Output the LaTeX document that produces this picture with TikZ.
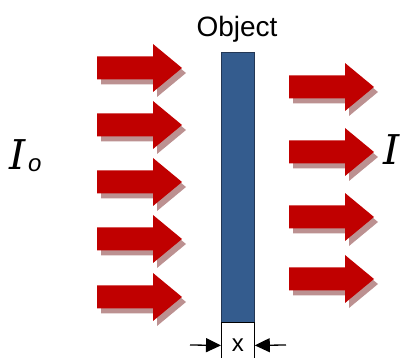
\documentclass[tikz,border=0pt]{standalone}
\usepackage{fontspec}
\setmainfont{Liberation Serif}
\setsansfont{Liberation Sans}
\newfontfamily\ifam{DejaVu Serif}
\usetikzlibrary{arrows.meta}
\definecolor{arrred}{RGB}{192,0,0}
\definecolor{shadowc}{RGB}{188,145,145}
\definecolor{barfill}{RGB}{52,92,142}
\definecolor{bardraw}{RGB}{35,55,85}
\begin{document}
\begin{tikzpicture}[x=1pt,y=-1pt,
  bigarrow/.pic={
    \fill[shadowc] (4,-6.5) -- (60,-6.5) -- (60,-19) -- (89,5) -- (60,29) -- (60,16.5) -- (4,16.5) -- cycle;
    \fill[arrred] (0,-11.5) -- (56,-11.5) -- (56,-24) -- (85,0) -- (56,24) -- (56,11.5) -- (0,11.5) -- cycle;
  },
  txt/.style={inner sep=0pt},
  dim/.style={line width=1.3pt, -{Triangle[length=15pt,width=14pt]}}
]
\useasboundingbox (0,0) rectangle (405,358);
\clip (0,0) rectangle (405,358);
% incoming arrows
\foreach \yy in {68,125,182,239,297} \pic at (97,\yy) {bigarrow};
% outgoing arrows
\foreach \yy in {87,152,217,279} \pic at (289,\yy) {bigarrow};
% object
\node[draw=bardraw, fill=barfill, line width=0.8pt, minimum width=33pt, minimum height=270pt, inner sep=0pt, anchor=north west] (obj) at (221,52) {};
\node[txt, anchor=base, font=\sffamily\fontsize{28}{28}\selectfont] (objlbl) at (237,37) {Object};
% thickness box
\node[draw=black, fill=white, line width=0.8pt, minimum width=33pt, minimum height=46pt, inner sep=0pt, anchor=north west] (xbox) at (221,322) {};
\node[txt, font=\sffamily\fontsize{24}{24}\selectfont] (xlbl) at (xbox.center) {x};
\coordinate (dl) at (190,345);
\coordinate (dr) at (286,345);
\draw[dim] (dl) -- (xbox.west);
\draw[dim] (dr) -- (xbox.east);
% intensities
\node[txt, anchor=base west, font=\ifam\itshape\fontsize{41}{41}\selectfont] (io) at (9,170) {I};
\node[txt, anchor=base west, font=\sffamily\itshape\fontsize{24}{24}\selectfont] (iosub) at (28,172) {o};
\node[txt, anchor=base west, font=\ifam\itshape\fontsize{41}{41}\selectfont] (iout) at (383,165) {I};
\end{tikzpicture}
\end{document}
